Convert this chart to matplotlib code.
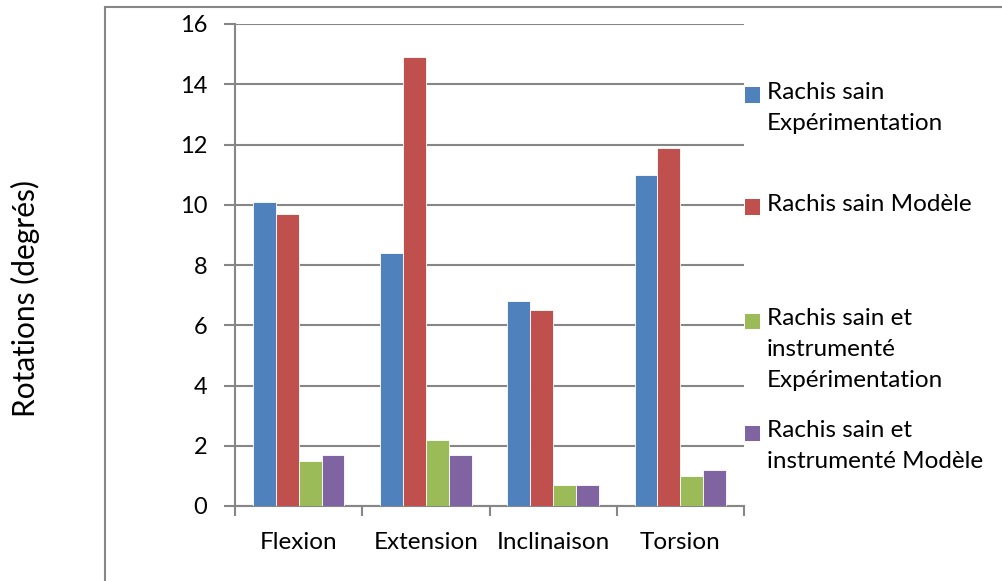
import matplotlib
matplotlib.use("Agg")
import matplotlib.pyplot as plt
import numpy as np
from matplotlib.patches import Rectangle
from matplotlib.lines import Line2D

plt.rcParams['font.family'] = ['Lato', 'DejaVu Sans']

categories = ['Flexion', 'Extension', 'Inclinaison', 'Torsion']
series_names = ['Rachis sain\nExpérimentation',
                'Rachis sain Modèle',
                'Rachis sain et\ninstrumenté\nExpérimentation',
                'Rachis sain et\ninstrumenté Modèle']
sain_exp = [10.1, 8.4, 6.8, 11.0]
sain_mod = [9.7, 14.9, 6.5, 11.9]
instr_exp = [1.5, 2.2, 0.7, 1.0]
instr_mod = [1.7, 1.7, 0.7, 1.2]
colors = ['#4F81BD', '#C0504D', '#9BBB59', '#8064A2']
yticks = [0, 2, 4, 6, 8, 10, 12, 14, 16]

W, H = 1003, 581
fig = plt.figure(figsize=(W / 100, H / 100), dpi=100)

# chart frame (only top and left edges fall inside the image)
fig.add_artist(Line2D([105 / W, 105 / W], [0, 1 - 7 / H], color='#868686', lw=1.5))
fig.add_artist(Line2D([105 / W, 1], [1 - 7 / H, 1 - 7 / H], color='#868686', lw=1.5))

ax = fig.add_axes([235 / W, (H - 506) / H, (744 - 235) / W, (506 - 24) / H])

x = np.arange(len(categories))
bw = 0.18
all_series = [sain_exp, sain_mod, instr_exp, instr_mod]
for i, vals in enumerate(all_series):
    ax.bar(x + (i - 1.5) * bw, vals, width=bw, color=colors[i],
           edgecolor='white', linewidth=0.6, zorder=3)

ax.set_xlim(-0.5, len(categories) - 0.5)
ax.set_ylim(0, 16)
ax.set_yticks(yticks)
ax.set_yticklabels([str(v) for v in yticks], fontsize=17)
ax.yaxis.grid(True, color='#868686', linewidth=1.5)
ax.set_axisbelow(True)

ax.set_xticks(x)
ax.set_xticklabels(categories, fontsize=17.5)
ax.set_xticks(np.arange(len(categories) + 1) - 0.5, minor=True)
ax.tick_params(axis='x', which='major', length=0, pad=19)
ax.tick_params(axis='x', which='minor', length=7, width=1.5, color='#868686')
ax.tick_params(axis='y', length=8, width=1.5, color='#868686', pad=12)

for side in ['top', 'right']:
    ax.spines[side].set_visible(False)
for side in ['left', 'bottom']:
    ax.spines[side].set_color('#868686')
    ax.spines[side].set_linewidth(1.5)

fig.text(25 / W, 1 - 180 / H, 'Rotations (degrés)', rotation=90,
         ha='center', va='top', fontsize=21.5)

# legend, one entry per series
leg_y = [95, 207, 321, 433]
for name, c, yy in zip(series_names, colors, leg_y):
    fig.add_artist(Rectangle((745 / W, 1 - (yy + 7.5) / H), 15 / W, 15 / H,
                             facecolor=c, edgecolor='none'))
    fig.text(767 / W, 1 - (yy - 13) / H, name, ha='left', va='top',
             fontsize=17.5, linespacing=1.6)

fig.savefig('out.png', dpi=100)
